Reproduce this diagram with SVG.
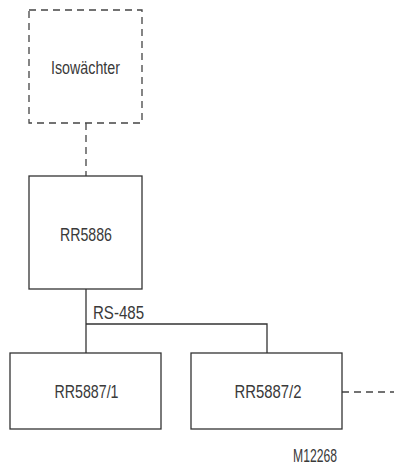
<svg xmlns="http://www.w3.org/2000/svg" width="394" height="468" viewBox="0 0 394 468">
<style>
.box{fill:#fff;stroke:#333;stroke-width:1.3}
.dbox{fill:#fff;stroke:#444;stroke-width:1.3;stroke-dasharray:7 5}
.ln{fill:none;stroke:#333;stroke-width:1.3}
.dln{fill:none;stroke:#444;stroke-width:1.3;stroke-dasharray:7 5}
text{font-family:"Liberation Sans",Arial,sans-serif;font-size:17.5px;fill:#3a3a3a}
.c{text-anchor:middle}
</style>
<rect width="394" height="468" fill="#fff"/>
<g id="connectors">
<line class="dln" x1="86" y1="123" x2="86" y2="176"/>
<polyline class="ln" points="86,289 86,353"/>
<polyline class="ln" points="86,324 267,324 267,353"/>
<line class="dln" x1="342" y1="392" x2="394" y2="392"/>
<text x="93" y="319" textLength="51" lengthAdjust="spacingAndGlyphs">RS-485</text>
</g>
<g id="isowaechter">
<rect class="dbox" x="29" y="10" width="113" height="113"/>
<text class="c" x="85.5" y="74" textLength="69" lengthAdjust="spacingAndGlyphs">Isowächter</text>
</g>
<g id="rr5886">
<rect class="box" x="29" y="176" width="113" height="113"/>
<text class="c" x="86" y="240.5" textLength="52" lengthAdjust="spacingAndGlyphs">RR5886</text>
</g>
<g id="rr5887-1">
<rect class="box" x="10" y="353" width="151" height="76"/>
<text class="c" x="86.5" y="398" textLength="64" lengthAdjust="spacingAndGlyphs">RR5887/1</text>
</g>
<g id="rr5887-2">
<rect class="box" x="191" y="353" width="151" height="76"/>
<text class="c" x="268" y="398" textLength="67" lengthAdjust="spacingAndGlyphs">RR5887/2</text>
</g>
<text class="c" x="315" y="462" textLength="44" lengthAdjust="spacingAndGlyphs">M12268</text>
</svg>
